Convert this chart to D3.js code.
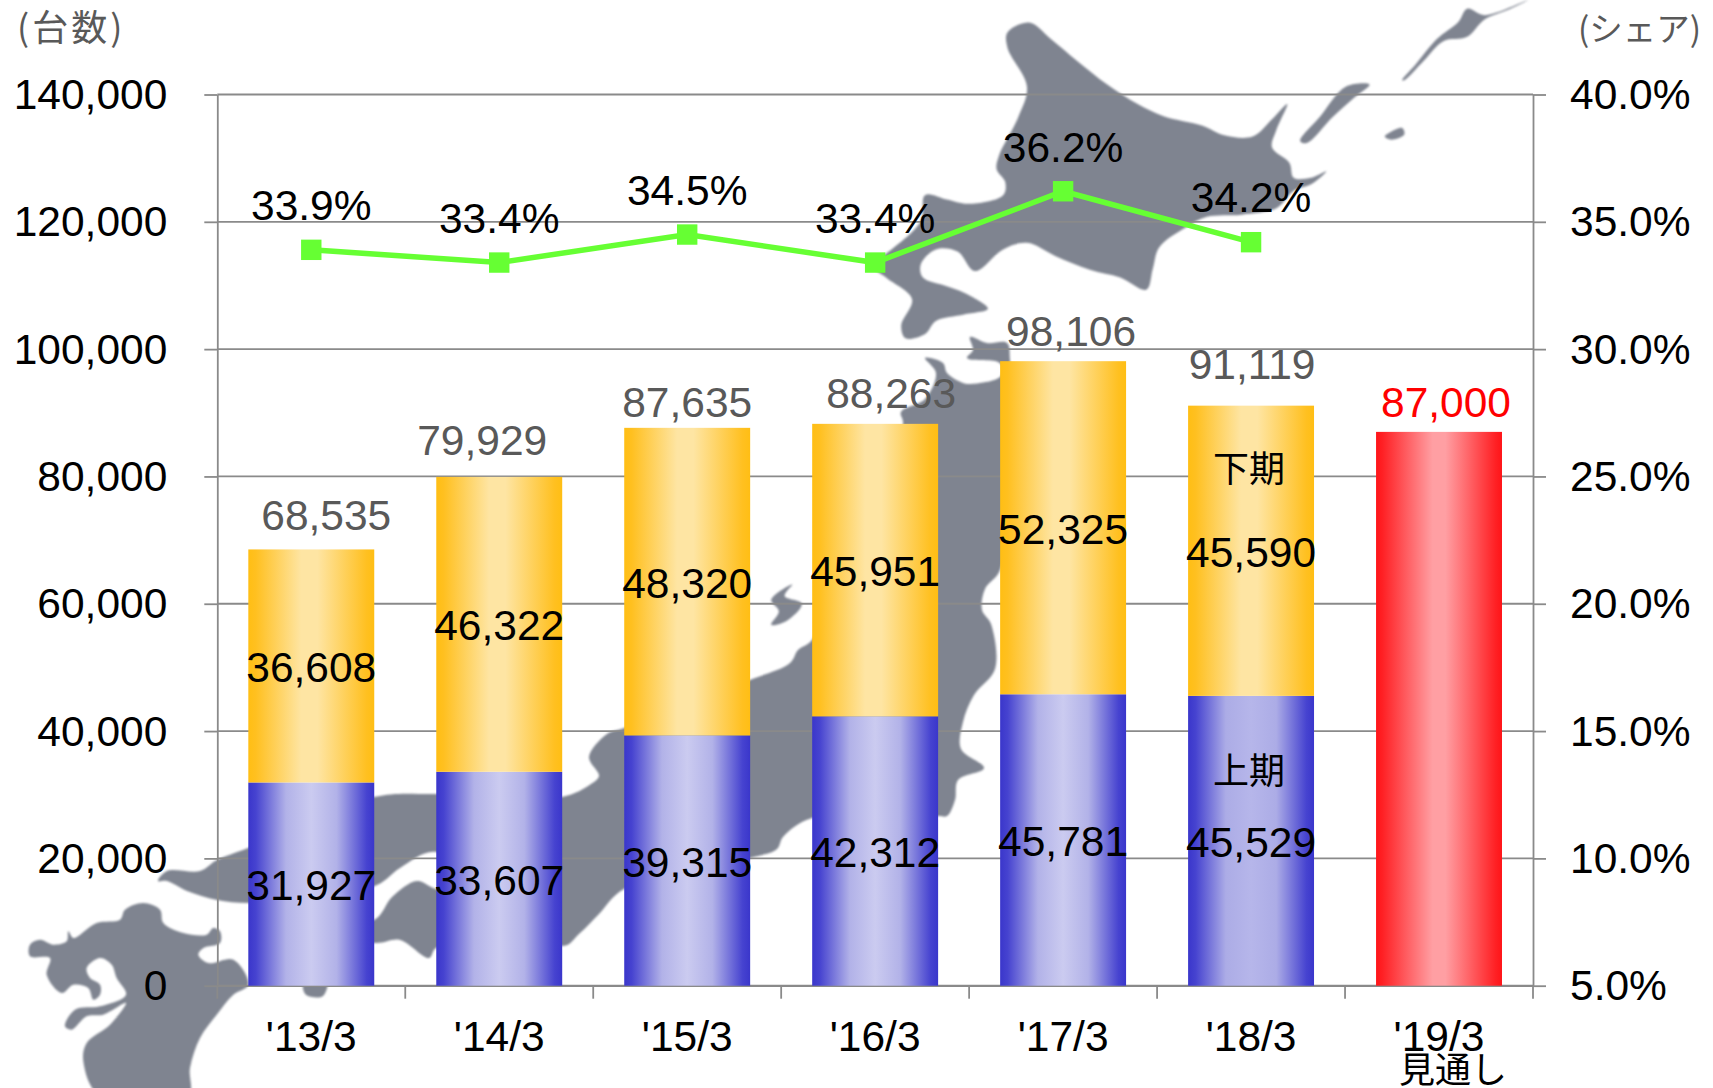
<!DOCTYPE html>
<html><head><meta charset="utf-8">
<script src="https://cdn.jsdelivr.net/npm/d3@7"></script>
<style>
html,body{margin:0;padding:0;background:#fff;overflow:hidden}
text{font-family:"Liberation Sans",Arial,sans-serif}
.jp{font-family:"Noto Sans CJK JP","Noto Sans",sans-serif}
</style></head><body><svg id="c" width="1713" height="1088"></svg>
<script>
// ---- chart data ----
const categories = ["'13/3","'14/3","'15/3","'16/3","'17/3","'18/3","'19/3"];
const firstHalf  = [31927,33607,39315,42312,45781,45529];
const secondHalf = [36608,46322,48320,45951,52325,45590];
const totals     = [68535,79929,87635,88263,98106,91119];
const forecast   = 87000;
const sharePct   = [33.9,33.4,34.5,33.4,36.2,34.2];
const leftTicks  = [0,20000,40000,60000,80000,100000,120000,140000];
const rightTicks = [5,10,15,20,25,30,35,40];

// ---- manual label nudges of the original (layout, not data) ----
const totalNudge = [[15,-19],[-17,-22],[0,-11],[16,-16],[8,-15],[1,-26.5],[7,-15]];

// ---- decorative background map outline ----
const hokkaido = [[340,75],[390,52],[440,90],[500,140],[570,195],[640,240],[700,268],[790,290],[840,312],[905,315],[950,275],[985,240],[960,300],[950,340],[990,375],[1000,410],[1040,410],[1075,395],[1040,425],[1000,440],[960,480],[880,495],[800,500],[750,525],[690,570],[675,620],[660,668],[600,640],[530,622],[450,590],[385,560],[330,575],[265,625],[225,580],[175,575],[140,610],[145,640],[200,660],[240,675],[295,712],[240,725],[175,740],[150,770],[105,780],[95,750],[120,690],[60,640],[25,610],[60,585],[140,510],[150,450],[200,460],[250,470],[330,450],[335,420],[315,390],[320,360],[365,270],[385,200],[340,110]].map(p=>[860+p[0]*.4337,p[1]*.4337]);
const kunashiri = [[1015,325],[1060,270],[1120,200],[1175,195],[1140,225],[1090,270],[1030,330]].map(p=>[860+p[0]*.4337,p[1]*.4337]);
const shikotan = [[1210,315],[1250,295],[1255,310],[1225,322]].map(p=>[860+p[0]*.4337,p[1]*.4337]);
const etorofu = [[1250,185],[1280,150],[1330,90],[1380,50],[1400,20],[1440,35],[1540,0],[1500,20],[1440,45],[1400,85],[1345,95],[1300,140],[1255,185]].map(p=>[860+p[0]*.4337,p[1]*.4337]);
const sado = [[970,470],[1025,430],[1005,460],[1050,480],[1010,525],[970,535],[990,500]].map(p=>[400+p[0]*.3827,420+p[1]*.3827]);
const honshu = [[925,358],[943,363],[947,373],[963,383],[970,384],[1000,377],[1002,367],[998,362],[967,358],[973,350],[970,337],[987,343],[1007,343],[1010,360],[1012,450],[1000,570],[985,589],[982,610],[991,624],[995,669],[974,695],[963,722],[961,749],[984,768],[958,780],[955,800],[947,816],[938,816],[812,818],[783,837],[777,849],[750,858],[624,889],[599,914],[580,933],[563,946],[500,900],[436,852],[400,868],[377,885],[300,900],[248,903],[217,900],[187,891],[167,881],[158,881],[167,871],[200,871],[217,860],[248,848],[374,797],[436,794],[562,797],[591,784],[599,776],[589,757],[607,734],[624,728],[750,680],[790,663],[798,650],[812,640],[903,424],[901,412],[925,399],[936,373]];
const shikoku = [[300,920],[374,920],[392,897],[417,881],[436,889],[500,900],[500,940],[436,948],[429,958],[400,940],[374,943]];
const ashizuri = [[304,980],[304,992],[308,996],[323,996],[327,980]];
const kyushu = [[90,530],[120,515],[160,530],[200,520],[205,490],[220,510],[290,465],[360,455],[375,425],[430,405],[480,425],[490,465],[550,495],[620,500],[640,480],[660,490],[660,525],[610,540],[595,560],[625,585],[700,575],[745,650],[700,680],[650,740],[600,810],[570,900],[565,985],[300,985],[250,880],[260,825],[330,770],[378,705],[310,740],[260,745],[215,785],[195,775],[225,725],[300,715],[378,680],[350,630],[335,590],[300,570],[260,600],[270,630],[300,650],[300,680],[280,695],[265,660],[220,650],[185,675],[140,620],[150,570],[90,565]].map(p=>[p[0]/3,768+p[1]/3]);
const mapShapes = [hokkaido,kunashiri,shikotan,etorofu,sado,honshu,shikoku,ashizuri,kyushu];

// ---- scales ----
const T=94.5,B=985.7,L=217.3,R=1533;
const x=d3.scaleBand().domain(categories).range([L,R]).paddingInner(.33).paddingOuter(.165);
const y=d3.scaleLinear().domain([0,140000]).range([B,T]);
const yR=d3.scaleLinear().domain([5,40]).range([B,T]);
const cx=i=>x(categories[i])+x.bandwidth()/2;

const svg=d3.select("#c");
const defs=svg.append("defs");
function grad(id,stops){
  const g=defs.append("linearGradient").attr("id",id).attr("x1",0).attr("x2",1).attr("y1",0).attr("y2",0);
  stops.forEach(s=>g.append("stop").attr("offset",s[0]).attr("stop-color",s[1]));
}
grad("blue",[[0,"#3a36cb"],[.06,"#4643d0"],[.3,"#b2b2e8"],[.5,"#cbcbf0"],[.7,"#b2b2e8"],[.94,"#4643d0"],[1,"#3a36cb"]]);
grad("blue2",[[0,"#3a36cb"],[.06,"#4643d0"],[.3,"#acace6"],[.5,"#b6b6ea"],[.7,"#acace6"],[.94,"#4643d0"],[1,"#3a36cb"]]);
grad("gold",[[0,"#ffbe14"],[.06,"#ffc020"],[.42,"#fee5a3"],[.55,"#fee5a3"],[.94,"#ffc020"],[1,"#ffbe14"]]);
grad("red",[[0,"#ff1418"],[.05,"#ff2024"],[.45,"#ff9fa3"],[.55,"#ff9fa3"],[.95,"#ff2024"],[1,"#ff1418"]]);
const blur=defs.append("filter").attr("id","soft");
blur.append("feGaussianBlur").attr("stdDeviation",1);

// map
const shape=d3.line().curve(d3.curveCatmullRomClosed.alpha(.5));
svg.append("g").attr("filter","url(#soft)").selectAll("path").data(mapShapes).join("path")
  .attr("d",shape).attr("fill","#7f8490");

// grid
const AX="#8a8a8a";
svg.append("g").selectAll("line").data(leftTicks).join("line")
  .attr("x1",L).attr("x2",R).attr("y1",d=>y(d)).attr("y2",d=>y(d))
  .attr("stroke",AX).attr("stroke-width",1.8);

// axes
const FS=42.5;
function styleAxis(g){
  g.selectAll(".domain").attr("stroke",AX).attr("stroke-width",1.8);
  g.selectAll(".tick line").attr("stroke",AX).attr("stroke-width",1.8);
  g.selectAll("text").attr("font-size",FS).attr("fill","#000").attr("font-family",'"Liberation Sans",Arial,sans-serif').attr("dy","0.33em");
}
svg.append("g").attr("transform",`translate(${L},0)`)
  .call(d3.axisLeft(y).tickValues(leftTicks).tickFormat(d3.format(",")).tickSize(13).tickPadding(37).tickSizeOuter(0)).call(styleAxis);
svg.append("g").attr("transform",`translate(${R},0)`)
  .call(d3.axisRight(yR).tickValues(rightTicks).tickFormat(d=>d.toFixed(1)+"%").tickSize(13).tickPadding(24).tickSizeOuter(0)).call(styleAxis);
const xAxis=svg.append("g").attr("transform",`translate(0,${B})`)
  .call(d3.axisBottom(x).tickSize(0).tickSizeOuter(0));
xAxis.select(".domain").attr("stroke",AX).attr("stroke-width",1.8);
xAxis.selectAll("text").attr("font-size",FS).attr("fill","#000").attr("font-family",'"Liberation Sans",Arial,sans-serif').attr("y",65).attr("dy",0);
svg.append("g").selectAll("line").data(d3.range(categories.length+1)).join("line")
  .attr("x1",i=>L+i*x.step()).attr("x2",i=>L+i*x.step()).attr("y1",B).attr("y2",B+13)
  .attr("stroke",AX).attr("stroke-width",1.8);

// bars
const bw=x.bandwidth();
svg.append("g").selectAll("rect").data(firstHalf).join("rect")
  .attr("x",(d,i)=>x(categories[i])).attr("width",bw)
  .attr("y",d=>y(d)).attr("height",d=>y(0)-y(d))
  .attr("fill",(d,i)=>i===5?"url(#blue2)":"url(#blue)");
svg.append("g").selectAll("rect").data(secondHalf).join("rect")
  .attr("x",(d,i)=>x(categories[i])).attr("width",bw)
  .attr("y",(d,i)=>y(firstHalf[i]+d)).attr("height",d=>y(0)-y(d))
  .attr("fill","url(#gold)");
svg.append("rect").attr("x",x(categories[6])).attr("width",bw)
  .attr("y",y(forecast)).attr("height",y(0)-y(forecast)).attr("fill","url(#red)");

// share line
const line=d3.line().x((d,i)=>cx(i)).y(d=>yR(d));
svg.append("path").attr("d",line(sharePct)).attr("fill","none").attr("stroke","#66ff33").attr("stroke-width",5.5);
svg.append("g").selectAll("rect").data(sharePct).join("rect")
  .attr("x",(d,i)=>cx(i)-10.2).attr("y",d=>yR(d)-10.2).attr("width",20.4).attr("height",20.4).attr("fill","#66ff33");

// value labels
function label(sel,data,fx,fy,txt,fill){
  sel.append("g").attr("text-anchor","middle").attr("font-size",FS).attr("fill",fill)
    .selectAll("text").data(data).join("text").attr("x",fx).attr("y",fy).text(txt);
}
const fmt=d3.format(",");
label(svg,firstHalf,(d,i)=>cx(i),d=>y(d/2)+16,fmt,"#000");
label(svg,secondHalf,(d,i)=>cx(i),(d,i)=>y(firstHalf[i]+d/2)+16,fmt,"#000");
label(svg,totals,(d,i)=>cx(i)+totalNudge[i][0],(d,i)=>y(d)+totalNudge[i][1],fmt,"#595959");
label(svg,[forecast],cx(6)+totalNudge[6][0],y(forecast)+totalNudge[6][1],fmt,"#ff0000");
label(svg,sharePct,(d,i)=>cx(i),d=>yR(d)-29.7,d=>d.toFixed(1)+"%","#000");

// Japanese annotations
function jp(t,px,py,size,fill,anchor,spacing){
  svg.append("text").attr("class","jp").attr("x",px).attr("y",py).attr("font-size",size)
    .attr("fill",fill).attr("text-anchor",anchor||"middle").attr("letter-spacing",spacing||0).text(t);
}
jp("下期",cx(5)-2,482,36,"#000");
jp("上期",cx(5)-2,784,36,"#000");
jp("見通し",1453,1083,36,"#000");
jp("(台数)",17,41,36,"#595959","start",3);
jp("(シェア)",1578,41,33.5,"#595959","start");
</script></body></html>
